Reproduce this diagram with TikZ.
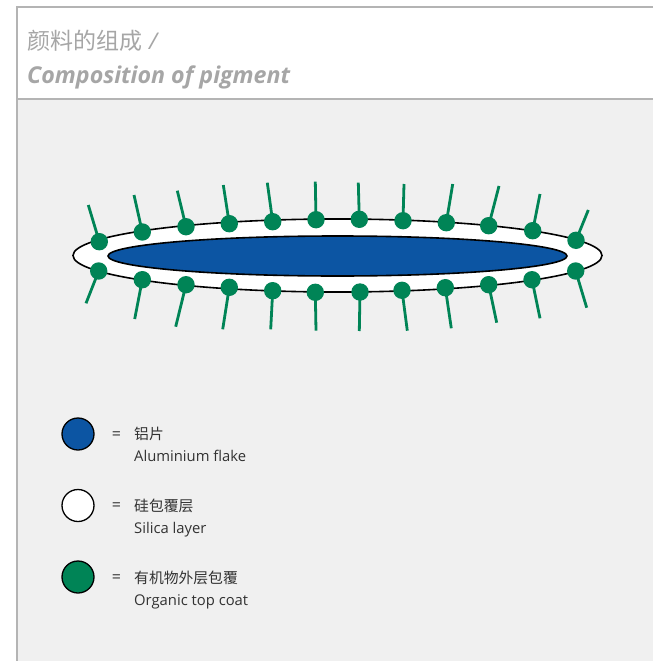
\documentclass[tikz,border=0pt]{standalone}
\usepackage{fontspec}
\setmainfont{Open Sans}
\newfontfamily\cjkfont{Noto Sans CJK SC}
\definecolor{bggrey}{RGB}{240,240,240}
\definecolor{frame}{RGB}{180,180,180}
\definecolor{titlegrey}{RGB}{166,166,166}
\definecolor{flakeblue}{RGB}{12,85,163}
\definecolor{coatgreen}{RGB}{0,132,86}
\definecolor{txt}{RGB}{50,50,50}
\begin{document}
\begin{tikzpicture}[x=1pt,y=-1pt,
  stick/.style={draw=coatgreen,line width=2.8pt},
  dot/.style={fill=coatgreen},
  legcircle/.style={draw=black,line width=1.3pt},
  legtxt/.style={anchor=base west,inner sep=0pt,text=txt,font=\fontsize{14.8}{17}\selectfont},
  legeq/.style={anchor=center,inner sep=0pt,text=txt,font=\fontsize{16}{17}\selectfont},
  legcjk/.style={anchor=base west,inner sep=0pt,text=txt,font=\cjkfont\fontsize{14.8}{17}\selectfont},
  titletxt/.style={anchor=base west,inner sep=0pt,text=titlegrey}]
\useasboundingbox (0,0) rectangle (653,661);
% panels
\fill[white] (17,7) rectangle (653,99);
\fill[bggrey] (17,99) rectangle (653,661);
\draw[frame,line width=2pt] (653,7) -- (17,7) -- (17,661);
\draw[frame,line width=2pt] (17,99) -- (653,99);
% title
\node[titletxt,font=\cjkfont\fontsize{23}{26}\selectfont] (t1) at (27,49) {颜料的组成\hspace{7pt}{\fontspec{Open Sans}\itshape /}};
\node[titletxt,font=\fontsize{23.2}{26}\selectfont\bfseries\itshape] (t2) at (27,83) {Composition of pigment};
% flake
\draw[fill=white,draw=black,line width=1.6pt] (337.5,255.5) ellipse [x radius=264.5pt, y radius=36.5pt];
\draw[fill=flakeblue,draw=black,line width=1.6pt] (337.5,256) ellipse [x radius=229.5pt, y radius=20pt];
% top coat
\foreach \dx/\dy/\ex/\ey in {
  99.3/241.7/88.3/205, 142.3/232/134/195, 186/226.7/177.3/190.7, 229.3/223.7/223.3/185,
  272.7/221.7/267.3/182.7, 316/219.7/315.3/181.7, 359.3/219.3/358.3/182.7, 403/220.7/404/184,
  446.3/222.7/452.7/184, 488.7/225.7/499/186, 532.7/230.7/540/194, 576/240.3/588.3/210,
  98.7/271/86/303.3, 142.3/279.7/134.7/319, 186/284.7/175.7/326.7, 229.3/287.3/222.7/329.3,
  272.7/290.7/270.7/329.3, 315.3/292.3/316/330.7, 360/292/359.3/331, 402/290.3/407.3/330.7,
  445.3/287.7/451.3/328.3, 488.7/284.7/496.7/322.7, 532/279.7/540/318.3, 575.7/271/586.7/307.7}{
  \coordinate (d) at (\dx,\dy);
  \coordinate (e) at (\ex,\ey);
  \draw[stick] (d) -- (e);
  \fill[dot] (d) circle [radius=8.7pt];
}
% legend
\draw[legcircle,fill=flakeblue] (78,434) circle [radius=16pt];
\draw[legcircle,fill=white] (78,505.5) circle [radius=16pt];
\draw[legcircle,fill=coatgreen] (78,577) circle [radius=16pt];
\node[legeq] (e1) at (116.5,435.5) {=};
\node[legeq] (e2) at (116.5,507) {=};
\node[legeq] (e3) at (116.5,578.5) {=};
\node[legcjk] (c1) at (134,439.5) {铝片};
\node[legtxt] (l1) at (134,461.5) {Aluminium flake};
\node[legcjk] (c2) at (134,511) {硅包覆层};
\node[legtxt] (l2) at (134,533) {Silica layer};
\node[legcjk] (c3) at (134,583) {有机物外层包覆};
\node[legtxt] (l3) at (134,605) {Organic top coat};
\end{tikzpicture}
\end{document}
